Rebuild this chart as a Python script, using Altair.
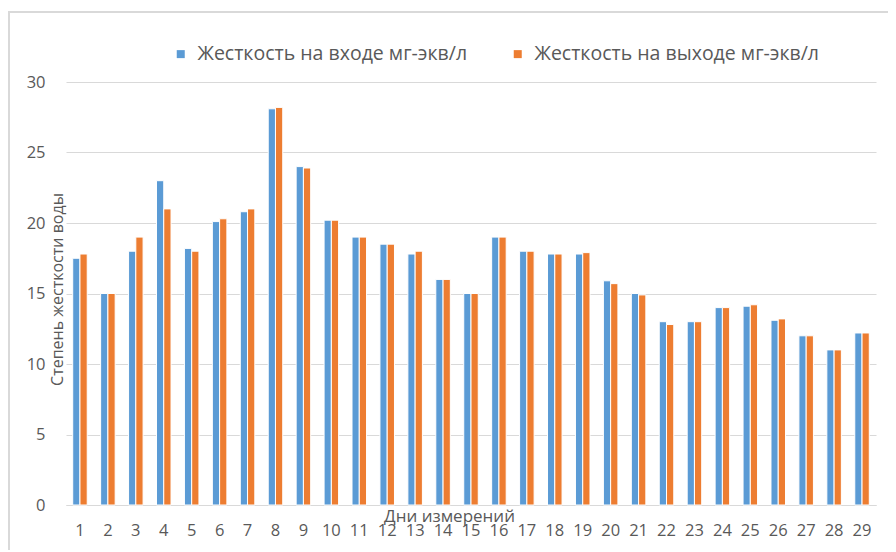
import altair as alt
import pandas as pd

days = [str(i) for i in range(1, 30)]
inlet = [17.5, 15.0, 18.0, 23.0, 18.2, 20.1, 20.8, 28.1, 24.0, 20.2,
         19.0, 18.5, 17.8, 16.0, 15.0, 19.0, 18.0, 17.8, 17.8, 15.9,
         15.0, 13.0, 13.0, 14.0, 14.1, 13.1, 12.0, 11.0, 12.2]
outlet = [17.8, 15.0, 19.0, 21.0, 18.0, 20.3, 21.0, 28.2, 23.9, 20.2,
          19.0, 18.5, 18.0, 16.0, 15.0, 19.0, 18.0, 17.8, 17.9, 15.7,
          14.9, 12.8, 13.0, 14.0, 14.2, 13.2, 12.0, 11.0, 12.2]
series = ["Жесткость на входе мг-экв/л", "Жесткость на выходе мг-экв/л"]
colors = ["#5B9BD5", "#ED7D31"]
y_ticks = [0, 5, 10, 15, 20, 25, 30]

rows = []
for d, a, b in zip(days, inlet, outlet):
    rows.append({"day": d, "series": series[0], "value": a})
    rows.append({"day": d, "series": series[1], "value": b})
df = pd.DataFrame(rows)

FONT = "Open Sans"
GREY = "#595959"

bars = alt.Chart(df).mark_bar(stroke="white", strokeWidth=1).encode(
    x=alt.X("day:N", sort=days,
            scale=alt.Scale(paddingInner=0.48, paddingOuter=0.24),
            axis=alt.Axis(title="Дни измерений", labelAngle=0, labelFontSize=16.5,
                          labelColor=GREY, labelFont=FONT, labelPadding=17,
                          ticks=False, domainColor="#D9D9D9", domainWidth=1,
                          titleFontSize=17, titleFontWeight="normal", titleColor=GREY,
                          titleFont=FONT, titleX=383, titleY=16, titleAlign="center",
                          titleBaseline="alphabetic")),
    xOffset=alt.XOffset("series:N", sort=series),
    y=alt.Y("value:Q", scale=alt.Scale(domain=[0, 30], nice=False),
            axis=alt.Axis(title="Степень жесткости воды", values=y_ticks,
                          labelFontSize=16.5, labelColor=GREY, labelFont=FONT,
                          labelPadding=21, ticks=False, domain=False,
                          gridColor="#D9D9D9", gridWidth=1,
                          titleFontSize=16, titleFontWeight="normal", titleColor=GREY,
                          titleFont=FONT, titleX=-4, titleY=207, titleAngle=270,
                          titleAlign="center", titleBaseline="alphabetic")),
    color=alt.Color("series:N", sort=series,
                    scale=alt.Scale(domain=series, range=colors),
                    legend=alt.Legend(title=None, orient="none", legendX=105, legendY=-38,
                                      direction="horizontal", symbolType="square",
                                      symbolSize=64, symbolStrokeWidth=0,
                                      labelFontSize=19.5, labelColor=GREY, labelFont=FONT,
                                      labelLimit=0, labelOffset=7, columnPadding=40)),
)

frame = alt.Chart(pd.DataFrame({"f": [0]})).mark_rect(
    fill=None, stroke="#D9D9D9", strokeWidth=2
).encode(x=alt.value(-57), x2=alt.value(900), y=alt.value(-70), y2=alt.value(600))

chart = alt.layer(frame, bars).properties(
    width=810, height=423,
    autosize=alt.AutoSizeParams(type="none"),
    padding={"left": 58, "top": 74, "right": 12, "bottom": 45},
).configure_view(stroke=None)

chart.save("out.html", embed_options={"renderer": "svg", "actions": False})
